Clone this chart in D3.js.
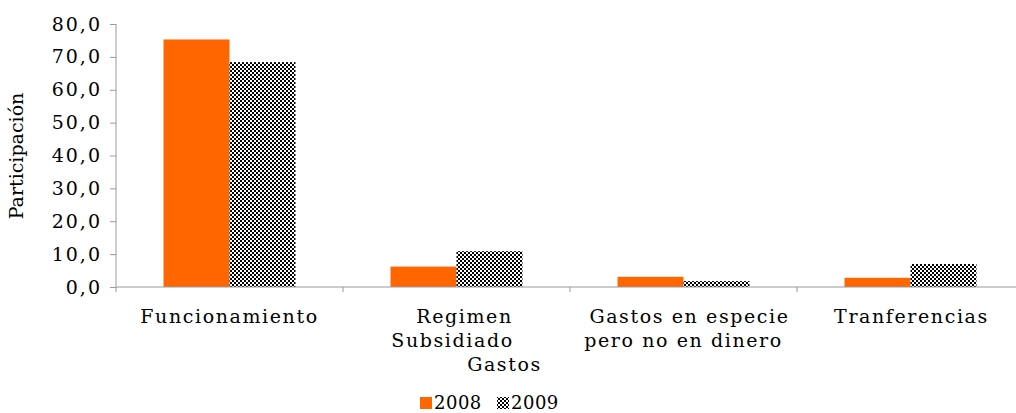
<!DOCTYPE html>
<html>
<head>
<meta charset="utf-8">
<script src="https://cdn.jsdelivr.net/npm/d3@7"></script>
<style>
  body { margin: 0; background: #fff; }
  svg { display: block; }
  text { font-family: "DejaVu Serif", serif; fill: #000; }
</style>
</head>
<body>
<svg width="1016" height="413"></svg>
<script>
// chart data
var categories = ['Funcionamiento', 'Regimen Subsidiado', 'Gastos en especie pero no en dinero', 'Tranferencias']
var catLines = [
  [['Funcionamiento', 0, 0]],
  [['Regimen', 8, 0], ['Subsidiado', -4, 1], ['Gastos', 48, 2]],
  [['Gastos en especie', 6, 0], ['pero no en dinero', 0, 1]],
  [['Tranferencias', 1, 0]]
]
var years = ['2008', '2009']
var values2008 = [75.3, 6.2, 3.1, 2.8]
var values2009 = [68.4, 10.9, 1.8, 7.0]
var yTicks = [0, 10, 20, 30, 40, 50, 60, 70, 80]

var chart = () => {
  var svg = d3.select('svg')
  var left = 116
  var top = 24
  var bottom = 287
  var right = 1024

  var defs = svg.append('defs')
  var pat = defs.append('pattern')
    .attr('id', 'checker')
    .attr('patternUnits', 'userSpaceOnUse')
    .attr('width', 4).attr('height', 4)
  pat.append('rect').attr('width', 4).attr('height', 4).attr('fill', '#fff')
  pat.append('rect').attr('x', 0).attr('y', 0).attr('width', 2).attr('height', 2).attr('fill', '#000')
  pat.append('rect').attr('x', 2).attr('y', 2).attr('width', 2).attr('height', 2).attr('fill', '#000')

  var x = d3.scaleBand()
    .domain(categories)
    .range([left, right])
    .paddingInner(0)

  var inner = d3.scaleBand()
    .domain(years)
    .range([0, x.bandwidth()])
    .paddingInner(0)
    .paddingOuter(0.72)

  var y = d3.scaleLinear()
    .domain([0, 80])
    .range([bottom, top])

  var fills = { '2008': '#ff6600', '2009': 'url(#checker)' }
  var series = { '2008': values2008, '2009': values2009 }

  // bars
  years.forEach(yr => {
    svg.append('g')
      .selectAll('rect').data(series[yr]).enter().append('rect')
      .attr('x', (d, i) => x(categories[i]) + inner(yr))
      .attr('y', d => y(d))
      .attr('width', inner.bandwidth())
      .attr('height', d => y(0) - y(d))
      .attr('fill', fills[yr])
  })

  // y axis
  var yAxis = svg.append('g')
    .attr('transform', 'translate(' + left + ',0)')
    .call(d3.axisLeft(y).tickValues(yTicks).tickSize(6).tickPadding(8)
      .tickFormat(d => d3.format('.1f')(d).replace('.', ',')))
  yAxis.select('.domain').attr('stroke', '#999').attr('d', 'M0,' + top + 'V' + (bottom + 5))
  yAxis.selectAll('.tick line').attr('stroke', '#999')
  yAxis.selectAll('.tick text')
    .attr('font-size', 19).attr('font-family', 'DejaVu Serif').attr('fill', '#000')
    .attr('letter-spacing', 2)

  // x axis baseline and separators
  var xg = svg.append('g')
  xg.append('line')
    .attr('x1', left).attr('x2', right)
    .attr('y1', y(0)).attr('y2', y(0))
    .attr('stroke', '#999')
  xg.selectAll('.sep').data(categories.slice(1)).enter().append('line')
    .attr('x1', d => x(d)).attr('x2', d => x(d))
    .attr('y1', y(0)).attr('y2', y(0) + 5)
    .attr('stroke', '#999')

  // category labels
  catLines.forEach((lines, i) => {
    var cx = x(categories[i]) + x.bandwidth() / 2
    lines.forEach(l => {
      xg.append('text')
        .attr('x', cx + l[1])
        .attr('y', 323 + l[2] * 24)
        .attr('text-anchor', 'middle')
        .attr('font-size', 19)
        .attr('letter-spacing', 1.6)
        .text(l[0])
    })
  })

  // y title
  svg.append('text')
    .attr('transform', 'translate(23,156) rotate(-90)')
    .attr('text-anchor', 'middle')
    .attr('font-family', 'Liberation Serif')
    .attr('font-size', 19)
    .text('Participación')

  // legend
  var leg = svg.append('g')
  var lx = [420, 497]
  years.forEach((yr, i) => {
    leg.append('rect')
      .attr('x', lx[i]).attr('y', 397)
      .attr('width', 12).attr('height', 12)
      .attr('fill', fills[yr])
    leg.append('text')
      .attr('x', lx[i] + 14).attr('y', 409)
      .attr('font-size', 18)
      .attr('letter-spacing', 0.5)
      .text(yr)
  })
}

chart()
</script>
</body>
</html>
